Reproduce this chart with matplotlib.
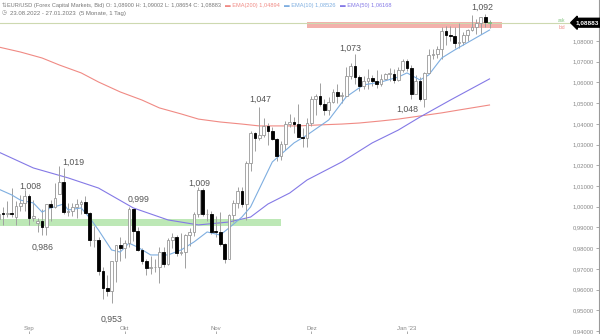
import matplotlib.pyplot as plt
import numpy as np

## Daily candles EUR/USD, 23.08.2022 - 27.01.2023 (one per trading day)
opens = [0.9941, 0.9967, 0.9966, 0.9970, 0.9948, 1.0003, 1.0018,
         1.0054, 0.9945, 0.9920, 0.9929, 0.9902, 1.0012, 1.0000, 1.0060, 1.0121, 0.9972, 0.9978, 0.9998,
         1.0015, 1.0025, 0.9970, 0.9837, 0.9838, 0.9690, 0.9607, 0.9593, 0.9736, 0.9816,
         0.9801, 0.9825, 0.9987, 0.9885, 0.9792, 0.9738, 0.9703, 0.9707, 0.9707, 0.9780, 0.9721,
         0.9839, 0.9853, 0.9774, 0.9780, 0.9861, 0.9878, 0.9965, 1.0079, 0.9963, 0.9964,
         0.9880, 0.9879, 0.9818, 0.9749, 0.9960, 1.0020, 1.0074, 1.0012, 1.0210, 1.0354, 1.0330,
         1.0348, 1.0392, 1.0364, 1.0325, 1.0244, 1.0303, 1.0398, 1.0410, 1.0398, 1.0335, 1.0332,
         1.0405, 1.0522, 1.0535, 1.0494, 1.0467, 1.0505, 1.0555, 1.0535, 1.0535, 1.0631, 1.0677,
         1.0628, 1.0585, 1.0606, 1.0622, 1.0608, 1.0594, 1.0617, 1.0640, 1.0640, 1.0610, 1.0661,
         1.0705, 1.0670, 1.0545, 1.0606, 1.0521, 1.0646, 1.0733, 1.0735, 1.0761, 1.0850,
         1.0830, 1.0822, 1.0791, 1.0795, 1.0830, 1.0855, 1.0870, 1.0887, 1.0914, 1.0890]
highs = [1.0017, 0.9999, 1.0029, 1.0090, 1.0028, 1.0055, 1.0080,
         1.0060, 1.0033, 0.9945, 0.9989, 1.0012, 1.0030, 1.0113, 1.0198, 1.0187, 1.0020, 1.0017, 1.0036,
         1.0030, 1.0051, 0.9976, 0.9907, 0.9852, 0.9710, 0.9670, 0.9740, 0.9816, 0.9853,
         0.9838, 0.9999, 0.9988, 0.9900, 0.9799, 0.9748, 0.9760, 0.9747, 0.9807, 0.9805,
         0.9848, 0.9875, 0.9862, 0.9873, 0.9870, 0.9899, 0.9976, 1.0093, 1.0088, 0.9989,
         0.9979, 0.9954, 0.9976, 0.9827, 0.9966, 1.0033, 1.0096, 1.0093, 1.0223, 1.0365, 1.0362,
         1.0481, 1.0428, 1.0406, 1.0386, 1.0332, 1.0317, 1.0412, 1.0448, 1.0432, 1.0497, 1.0380,
         1.0429, 1.0533, 1.0545, 1.0595, 1.0520, 1.0528, 1.0566, 1.0590, 1.0556, 1.0673, 1.0695,
         1.0736, 1.0637, 1.0633, 1.0667, 1.0637, 1.0658, 1.0639, 1.0644, 1.0672, 1.0665, 1.0676,
         1.0713, 1.0713, 1.0684, 1.0635, 1.0628, 1.0650, 1.0760, 1.0760, 1.0777, 1.0867,
         1.0874, 1.0874, 1.0867, 1.0887, 1.0843, 1.0860, 1.0927, 1.0905, 1.0914, 1.0929, 1.0900]
lows = [0.9901, 0.9910, 0.9948, 0.9950, 0.9912, 0.9978, 0.9978,
        0.9910, 0.9930, 0.9876, 0.9864, 0.9864, 0.9930, 0.9995, 1.0060, 0.9966, 0.9955, 0.9955, 0.9945,
        0.9966, 0.9970, 0.9810, 0.9807, 0.9669, 0.9553, 0.9570, 0.9536, 0.9635, 0.9736,
        0.9750, 0.9805, 0.9835, 0.9785, 0.9725, 0.9670, 0.9675, 0.9685, 0.9632, 0.9711,
        0.9720, 0.9800, 0.9760, 0.9765, 0.9705, 0.9808, 0.9860, 0.9950, 0.9953, 0.9932,
        0.9870, 0.9853, 0.9810, 0.9730, 0.9746, 0.9927, 0.9995, 1.0000, 0.9935, 1.0170, 1.0270,
        1.0320, 1.0338, 1.0300, 1.0322, 1.0222, 1.0226, 1.0274, 1.0385, 1.0357, 1.0340, 1.0290,
        1.0290, 1.0390, 1.0444, 1.0488, 1.0443, 1.0445, 1.0500, 1.0500, 1.0500, 1.0535, 1.0618,
        1.0590, 1.0559, 1.0570, 1.0568, 1.0585, 1.0573, 1.0585, 1.0615, 1.0609, 1.0595, 1.0605,
        1.0650, 1.0653, 1.0520, 1.0544, 1.0511, 1.0482, 1.0646, 1.0713, 1.0717, 1.0714,
        1.0780, 1.0800, 1.0766, 1.0766, 1.0780, 1.0800, 1.0850, 1.0835, 1.0835, 1.0866, 1.0865]
closes = [0.9967, 0.9966, 0.9970, 0.9964, 1.0003, 1.0018, 1.0054,
          0.9945, 0.9954, 0.9929, 0.9902, 1.0012, 1.0000, 1.0044, 1.0121, 0.9972, 0.9978, 0.9998, 1.0015,
          1.0025, 0.9970, 0.9837, 0.9838, 0.9690, 0.9607, 0.9593, 0.9736, 0.9816, 0.9801,
          0.9825, 0.9987, 0.9885, 0.9792, 0.9738, 0.9703, 0.9707, 0.9707, 0.9780, 0.9721,
          0.9839, 0.9853, 0.9774, 0.9780, 0.9861, 0.9878, 0.9965, 1.0079, 0.9963, 0.9964,
          0.9880, 0.9879, 0.9818, 0.9749, 0.9960, 1.0020, 1.0074, 1.0012, 1.0210, 1.0354, 1.0330,
          1.0348, 1.0392, 1.0364, 1.0325, 1.0244, 1.0303, 1.0398, 1.0410, 1.0398, 1.0335, 1.0332,
          1.0405, 1.0522, 1.0535, 1.0494, 1.0467, 1.0505, 1.0555, 1.0535, 1.0535, 1.0631, 1.0677,
          1.0628, 1.0585, 1.0606, 1.0622, 1.0608, 1.0594, 1.0617, 1.0640, 1.0640, 1.0610, 1.0661,
          1.0705, 1.0670, 1.0545, 1.0606, 1.0521, 1.0646, 1.0733, 1.0735, 1.0761, 1.0850,
          1.0830, 1.0822, 1.0791, 1.0795, 1.0830, 1.0855, 1.0870, 1.0887, 1.0914, 1.0890, 1.08883]

## Moving averages (candle index, value)
ema10_idx = [0, 3, 5, 8, 10, 12, 15, 16, 19, 21, 23, 26, 28, 30, 32, 35, 39, 42, 45, 48, 51, 53,
             56, 58, 63, 68, 71, 76, 80, 84, 88, 92, 94, 97, 99, 102, 105, 109, 113]
ema10 = [1.0085, 1.0057, 1.0032, 1.0018, 0.9974, 0.9994, 1.0013, 0.9984, 0.9994, 0.9945, 0.9887,
         0.9791, 0.9781, 0.9824, 0.9805, 0.9767, 0.9767, 0.9791, 0.9830, 0.9878, 0.9863, 0.9897,
         0.9950, 0.9999, 1.0216, 1.0308, 1.0346, 1.0419, 1.0530, 1.0588, 1.0602, 1.0626, 1.0646,
         1.0612, 1.0636, 1.0718, 1.0757, 1.0805, 1.0853]
ema50_idx = [0, 8, 16, 23, 31, 39, 46, 53, 58, 62, 67, 71, 79, 86, 92, 97, 104, 113]
ema50 = [1.0264, 1.0187, 1.0139, 1.0090, 0.9994, 0.9936, 0.9912, 0.9926, 0.9950, 1.0013, 1.0066,
         1.0129, 1.0216, 1.0308, 1.0370, 1.0433, 1.0515, 1.0617]
ema200_idx = [0, 5, 10, 14, 19, 23, 28, 33, 37, 42, 46, 51, 56, 60, 65, 69, 74, 79, 83, 88, 92,
              97, 102, 106, 113]
ema200 = [1.0771, 1.0747, 1.0718, 1.0684, 1.0646, 1.0602, 1.0554, 1.0515, 1.0477, 1.0448, 1.0423,
          1.0409, 1.0399, 1.0390, 1.0390, 1.0390, 1.0395, 1.0399, 1.0404, 1.0414, 1.0423, 1.0438,
          1.0453, 1.0467, 1.0491]

## Swing labels (candle index, price, text)
swing_idx = [7.2, 17.1, 10.1, 32.1, 46.1, 26.1, 60.2, 80.9, 94.0, 111.3]
swing_price = [1.0100, 1.0216, 0.9805, 1.0037, 1.0114, 0.9458, 1.0520, 1.0766, 1.0472, 1.0964]
swing_text = ['1,008', '1,019', '0,986', '0,999', '1,009', '0,953', '1,047', '1,073', '1,048', '1,092']

## Zones
support_zone = (0.9908, 0.9941)
resist_zone = (1.0864, 1.0893)
last_price = 1.08883

month_idx = [7, 29, 50, 72, 94]
month_labels = ['Sep', 'Okt', 'Nov', 'Dez', "Jan '23"]
price_ticks = np.arange(0.94, 1.0801, 0.01)

RED = '#f08a84'
BLUE = '#7eaee0'
PURPLE = '#8479e6'

plt.rcParams['font.family'] = ['Liberation Sans', 'DejaVu Sans']

fig = plt.figure(figsize=(6, 3.34), dpi=100)
ax = fig.add_axes([0, 0, 599 / 600, 1])
ax.set_xlim(0.32, 138.2)
ax.set_ylim(0.93853, 1.0998)

## zones and price line
ax.fill_between([0.32, 65.0], *support_zone, color='#bde8b6', lw=0, zorder=1)
ax.fill_between([71.0, 115.9], *resist_zone, color='#f3b0ab', lw=0, zorder=1)
ax.axhline(last_price, color='#cdd9b0', lw=0.8, zorder=1)

## moving averages
ax.plot(ema200_idx, ema200, color=RED, lw=0.8, zorder=2)
ax.plot(ema50_idx, ema50, color=PURPLE, lw=0.8, zorder=2)
ax.plot(ema10_idx, ema10, color=BLUE, lw=0.8, zorder=4)

## candles
x = np.arange(len(opens))
o = np.array(opens)
c = np.array(closes)
ax.vlines(x, lows, highs, color='#a0a0a0', lw=0.7, zorder=3)
up = c >= o
body_lo = np.minimum(o, c)
body_h = np.maximum(np.abs(c - o), 0.0004)
face = np.where(up, 'white', 'black')
edge = np.where(up, '#999999', 'black')
face[-1] = '#9ed89a'
edge[-1] = '#7cc078'
ax.bar(x, body_h, bottom=body_lo, width=0.62, color=face, edgecolor=edge, lw=0.6, zorder=5)

for xi, yi, t in zip(swing_idx, swing_price, swing_text):
    ax.text(xi, yi, t, fontsize=6.3, color='#555555', ha='center', va='center')

## axes styling
for s in ['top', 'left', 'bottom']:
    ax.spines[s].set_visible(False)
ax.spines['right'].set_color('#9a9a9a')
ax.spines['right'].set_linewidth(0.8)

ax.yaxis.tick_right()
ax.set_yticks(price_ticks)
ax.set_yticklabels([('%.5f' % v).replace('.', ',') for v in price_ticks])
ax.tick_params(axis='y', direction='in', length=2, width=0.5, pad=-3.5, labelsize=4.2,
               colors='#888888')
for t in ax.yaxis.get_major_ticks():
    t.label2.set_horizontalalignment('right')

ax.set_xticks(month_idx)
ax.set_xticklabels(month_labels)
ax.tick_params(axis='x', direction='in', length=2, width=0.5, pad=-5.5, labelsize=4.3,
               colors='#888888')

## current price marker
ax.text(1.0, last_price, '1,08883', transform=ax.get_yaxis_transform(), ha='right', va='center',
        fontsize=4.6, color='white', fontweight='bold',
        bbox=dict(boxstyle='larrow,pad=0.3', fc='black', ec='black'))
ax.text(0.938, last_price + 0.0009, 'ask', transform=ax.get_yaxis_transform(), fontsize=3.4,
        color='#7cc078', ha='center', va='center')
ax.text(0.938, last_price - 0.0021, 'bid', transform=ax.get_yaxis_transform(), fontsize=3.4,
        color='#ec8a84', ha='center', va='center')

## header, pieces chained one after the other
HDR = 4.1
fig.text(1.5 / 600, 1 - 5 / 334, '\u21c5', fontsize=HDR, va='center', color='#888888')
prev = fig.text(7 / 600, 1 - 5 / 334,
                'EUR/USD (Forex Capital Markets, Bid) O: 1,08900 H: 1,09002 L: 1,08654 C: 1,08883',
                fontsize=HDR, va='center', color='#777777')
for s, col in [('\u25ac EMA(200) 1,04894', RED), ('\u25ac EMA(10) 1,08526', BLUE),
               ('\u25ac EMA(50) 1,06168', PURPLE)]:
    prev = fig.add_artist(plt.Annotation(s, xy=(1, 0.5), xycoords=prev, xytext=(3, 0),
                                         textcoords='offset points', va='center',
                                         fontsize=HDR, color=col))
fig.text(1.5 / 600, 1 - 13 / 334, '\u25f7', fontsize=HDR, va='center', color='#888888')
fig.text(10 / 600, 1 - 13 / 334, '23.08.2022 - 27.01.2023  (5 Monate, 1 Tag)', fontsize=4.3,
         va='center', color='#777777')

fig.savefig('out.png', dpi=100)
